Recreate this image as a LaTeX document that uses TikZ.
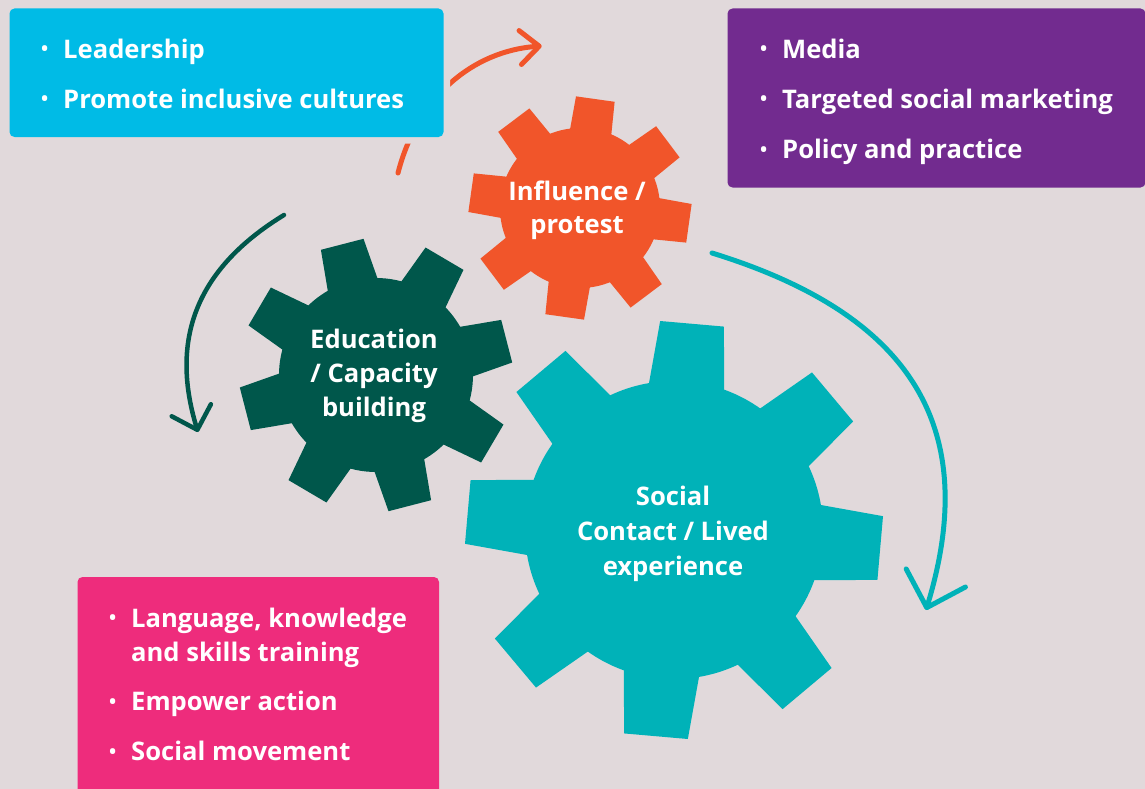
\documentclass[tikz,border=0pt]{standalone}
\usepackage{fontspec}
\setmainfont{Open Sans}
\usetikzlibrary{arrows.meta,calc}
\definecolor{bgc}{HTML}{E1D9DB}
\definecolor{cblue}{HTML}{00BBE6}
\definecolor{cpurple}{HTML}{722B8F}
\definecolor{cpink}{HTML}{EE2C7C}
\definecolor{corange}{HTML}{F1552A}
\definecolor{cgreen}{HTML}{00574B}
\definecolor{cteal}{HTML}{00B2B8}
\newcommand{\bul}{\llap{\raisebox{2.5pt}{\fontsize{19}{19}\selectfont •}\hspace{15pt}}}
\newcommand{\drawgear}[8]{%
 \begin{scope}[shift={(#1,#2)}]
  \fill[#8] (0,0) circle (#3);
  \foreach \k in {0,...,7}{
    \fill[#8, rotate=#7+45*\k] (#3-8,-#5) -- (#4,-#6) -- (#4,#6) -- (#3-8,#5) -- cycle;
  }
 \end{scope}}
\begin{document}
\begin{tikzpicture}[x=1pt,y=-1pt,
  txt/.style={text=white, font=\fontsize{25.6}{30}\selectfont\bfseries, inner sep=0pt, anchor=base west},
  gtxt/.style={text=white, font=\fontsize{25.6}{30}\selectfont\bfseries, inner sep=0pt, anchor=base},
  arcline/.style={line width=5pt, line cap=round}]
\useasboundingbox (0,0) rectangle (1145,789);
\fill[bgc] (0,0) rectangle (1145,789);

% orange arc (behind the blue box)
\coordinate (os) at (398,173);
\coordinate (oe) at (541.7,46);
\draw[arcline, corange, -{Straight Barb[length=19pt,width=34pt,round]}] (os) .. controls (417,98) and (472,51) .. (oe);

% boxes
\fill[bgc, rounded corners=10pt] (3,2) rectangle (450,143.5);
\fill[cblue, rounded corners=5pt] (9.5,8.5) rectangle (443.5,137);
\fill[cpurple, rounded corners=5pt] (727.5,8.5) rectangle (1145.5,187.5);
\fill[cpink, rounded corners=5pt] (77.5,577) rectangle (439,810);

% gears
\drawgear{376}{375}{97}{135}{26}{22}{104.5}{cgreen}
\drawgear{580}{208}{80}{110}{21}{19.5}{82}{corange}
\drawgear{674}{530}{149}{207}{38}{32}{85}{cteal}

% green arc
\coordinate (gs) at (284,215);
\coordinate (ge) at (198,432);
\draw[arcline, line width=4.5pt, cgreen, -{Straight Barb[length=20.5pt,width=41pt,round]}] (gs) .. controls (199,267) and (168.6,336.4) .. (ge);

% teal arc
\coordinate (ts) at (712,253);
\coordinate (te) at (926,610);
\draw[arcline, cteal, -{Straight Barb[length=31pt,width=62pt,round]}] (ts) .. controls (903,312) and (984,420) .. (te);

% box texts
\node[txt] (b1) at (63,58.5) {\bul Leadership};
\node[txt] (b2) at (63,108.5) {\bul Promote inclusive cultures};
\node[txt] (p1) at (782,58.5) {\bul Media};
\node[txt] (p2) at (782,108.5) {\bul Targeted social marketing};
\node[txt] (p3) at (782,158.5) {\bul Policy and practice};
\node[txt] (k1) at (131,627) {\bul Language, knowledge};
\node[txt] (k2) at (131,661) {and skills training};
\node[txt] (k3) at (131,710.5) {\bul Empower action};
\node[txt] (k4) at (131,760.5) {\bul Social movement};

% gear texts
\node[gtxt] (o1) at (577,200.5) {Influence /};
\node[gtxt] (o2) at (577,233.5) {protest};
\node[gtxt] (e1) at (374,348.5) {Education};
\node[gtxt] (e2) at (374,382.5) {/ Capacity};
\node[gtxt] (e3) at (374,416) {building};
\node[gtxt] (s1) at (673,505.5) {Social};
\node[gtxt] (s2) at (673,540.5) {Contact / Lived};
\node[gtxt] (s3) at (673,575.5) {experience};
\end{tikzpicture}
\end{document}
